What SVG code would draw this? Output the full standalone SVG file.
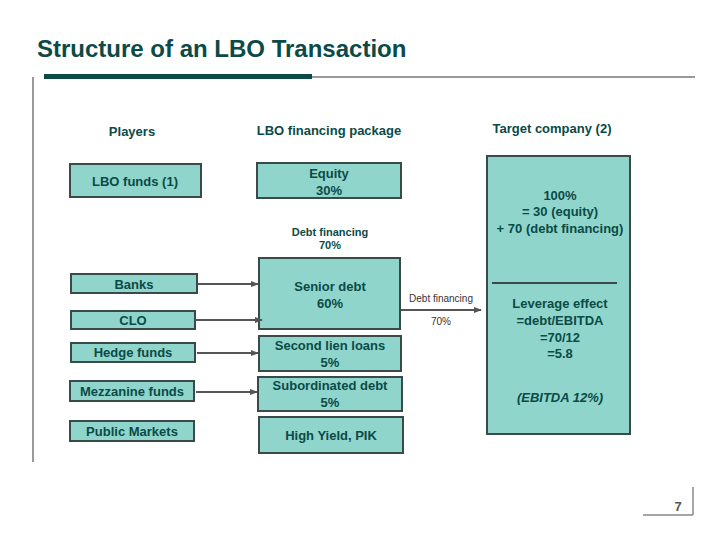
<svg xmlns="http://www.w3.org/2000/svg" width="720" height="540" viewBox="0 0 720 540">
<defs>
<style>
text{font-family:"Liberation Sans",Arial,sans-serif;font-weight:bold;fill:#0b4a46;text-anchor:middle}
.box{fill:#8fd5cc;stroke:#3a4a48;stroke-width:2}
.t{font-size:13px}
.h{font-size:13px}
.s{font-size:10px;font-weight:normal;fill:#333}
.c{stroke:#555;stroke-width:2;fill:none;marker-end:url(#a)}
</style>
<marker id="a" markerWidth="8" markerHeight="8" refX="7" refY="4" orient="auto" markerUnits="userSpaceOnUse"><path d="M0,1 L8,4 L0,7 z" fill="#555"/></marker>
</defs>
<rect width="720" height="540" fill="#fff"/>
<text x="37" y="57" style="font-size:24px;text-anchor:start">Structure of an LBO Transaction</text>
<line x1="312" y1="77" x2="695" y2="77" stroke="#999" stroke-width="2"/>
<rect x="44" y="74" width="268" height="5" fill="#0b4a46"/>
<line x1="33" y1="77" x2="33" y2="462" stroke="#999" stroke-width="2"/>
<line x1="693" y1="487" x2="693" y2="515" stroke="#888" stroke-width="1.5"/>
<line x1="643" y1="515" x2="693" y2="515" stroke="#888" stroke-width="1.5"/>
<text x="678" y="511" style="font-size:13px;fill:#555">7</text>
<text x="132" y="136" class="h">Players</text>
<text x="329" y="135" class="h">LBO financing package</text>
<text x="552" y="133" class="h">Target company (2)</text>
<g id="players">
<g id="lbofunds"><rect class="box" x="70" y="164" width="131" height="33"/><text x="135" y="186" class="t">LBO funds (1)</text></g>
<g id="banks"><rect class="box" x="71" y="274" width="126" height="19"/><text x="134" y="289" class="t">Banks</text></g>
<g id="clo"><rect class="box" x="71" y="311" width="124" height="18"/><text x="133" y="325" class="t">CLO</text></g>
<g id="hedge"><rect class="box" x="71" y="343" width="124" height="19"/><text x="133" y="357" class="t">Hedge funds</text></g>
<g id="mezz"><rect class="box" x="70" y="381" width="124" height="20"/><text x="132" y="396" class="t">Mezzanine funds</text></g>
<g id="public"><rect class="box" x="70" y="421" width="124" height="20"/><text x="132" y="436" class="t">Public Markets</text></g>
</g>
<g id="package">
<g id="equity"><rect class="box" x="257" y="163" width="144" height="35"/><text x="329" y="178" class="t">Equity</text><text x="329" y="195" class="t">30%</text></g>
<text x="330" y="236" style="font-size:11px">Debt financing</text>
<text x="330" y="249" style="font-size:11px">70%</text>
<g id="senior"><rect class="box" x="259" y="258" width="141" height="71"/><text x="330" y="291" class="t">Senior debt</text><text x="330" y="308" class="t">60%</text></g>
<g id="second"><rect class="box" x="259" y="336" width="142" height="35"/><text x="330" y="350" class="t">Second lien loans</text><text x="330" y="367" class="t">5%</text></g>
<g id="sub"><rect class="box" x="258" y="377" width="144" height="34"/><text x="330" y="390" class="t">Subordinated debt</text><text x="330" y="407" class="t">5%</text></g>
<g id="hy"><rect class="box" x="259" y="417" width="144" height="36"/><text x="331" y="440" class="t">High Yield, PIK</text></g>
</g>
<g id="target"><rect class="box" x="487" y="156" width="143" height="278"/>
<text x="560" y="200" class="t">100%</text><text x="560" y="216" class="t">= 30 (equity)</text><text x="560" y="233" class="t">+ 70 (debt financing)</text>
<line x1="492" y1="283" x2="617" y2="283" stroke="#3a4a48" stroke-width="2"/>
<text x="560" y="308" class="t">Leverage effect</text><text x="560" y="325" class="t">=debt/EBITDA</text><text x="560" y="342" class="t">=70/12</text><text x="560" y="358" class="t">=5.8</text>
<text x="560" y="402" class="t" style="font-style:italic">(EBITDA 12%)</text>
</g>
<g id="connectors">
<line class="c" x1="198" y1="284" x2="258" y2="284"/>
<line class="c" x1="195" y1="320" x2="262" y2="320"/>
<line class="c" x1="197" y1="353" x2="258" y2="353"/>
<line class="c" x1="196" y1="392" x2="257" y2="392"/>
<line class="c" x1="401" y1="310" x2="481" y2="310"/>
<text x="441" y="302" class="s">Debt financing</text>
<text x="441" y="325" class="s">70%</text>
</g>
</svg>
